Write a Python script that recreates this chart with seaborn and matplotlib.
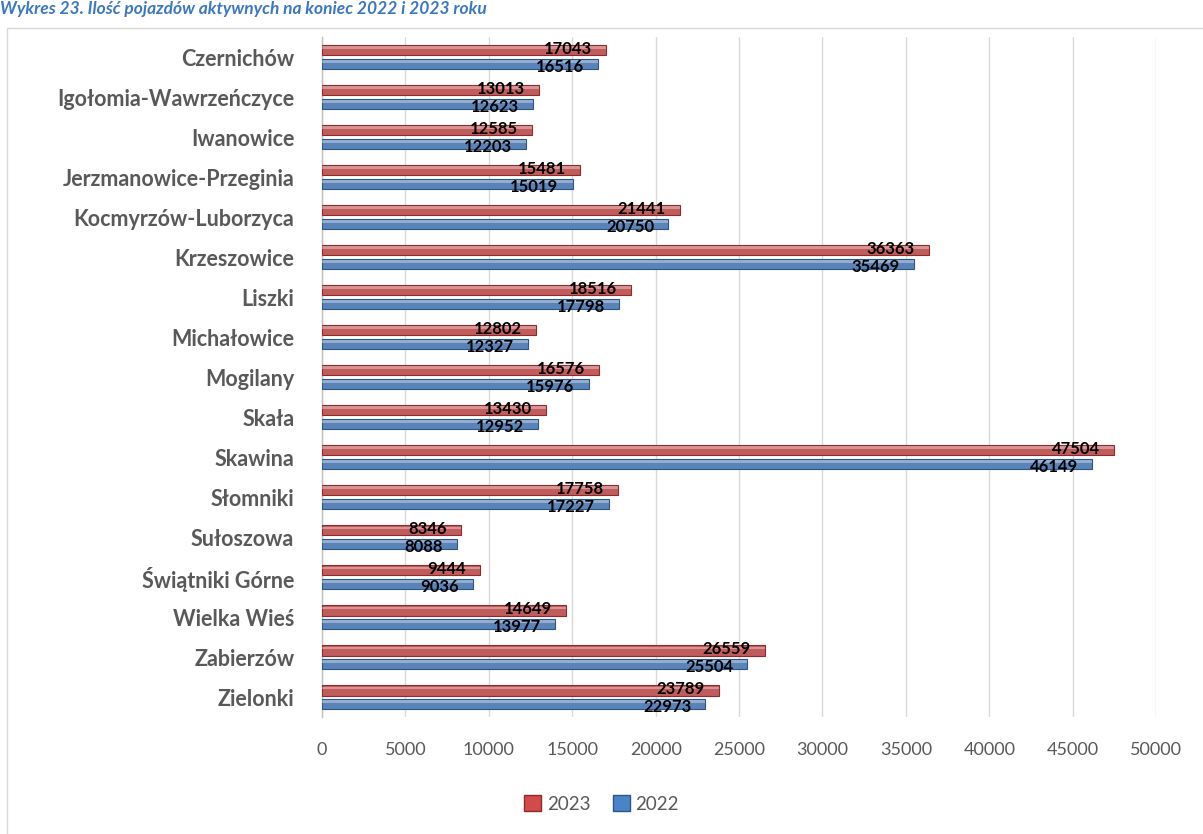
import matplotlib
matplotlib.use("Agg")
import matplotlib.pyplot as plt
import seaborn as sns
import pandas as pd
from matplotlib.patches import Rectangle, Patch

categories = ["Czernichów", "Igołomia-Wawrzeńczyce", "Iwanowice", "Jerzmanowice-Przeginia",
              "Kocmyrzów-Luborzyca", "Krzeszowice", "Liszki", "Michałowice", "Mogilany",
              "Skała", "Skawina", "Słomniki", "Sułoszowa", "Świątniki Górne",
              "Wielka Wieś", "Zabierzów", "Zielonki"]
values_2023 = [17043, 13013, 12585, 15481, 21441, 36363, 18516, 12802, 16576,
               13430, 47504, 17758, 8346, 9444, 14649, 26559, 23789]
values_2022 = [16516, 12623, 12203, 15019, 20750, 35469, 17798, 12327, 15976,
               12952, 46149, 17227, 8088, 9036, 13977, 25504, 22973]
series = ["2023", "2022"]
x_ticks = [0, 5000, 10000, 15000, 20000, 25000, 30000, 35000, 40000, 45000, 50000]
title = "Wykres 23. Ilość pojazdów aktywnych na koniec 2022 i 2023 roku"

df = pd.concat([
    pd.DataFrame({"gmina": categories, "rok": "2023", "wartosc": values_2023}),
    pd.DataFrame({"gmina": categories, "rok": "2022", "wartosc": values_2022}),
])

sns.set_theme(style="white")
plt.rcParams['font.family'] = ['Lato', 'DejaVu Sans']

fig = plt.figure(figsize=(12.03, 8.34), dpi=100)
ax = fig.add_axes([0.2677, 0.140, 0.6933, 0.8156])

colors = {"2023": "#D24B4B", "2022": "#4A83C8"}
edges = {"2023": "#8E2A2A", "2022": "#2A5688"}
sns.barplot(data=df, y="gmina", x="wartosc", hue="rok", hue_order=series,
            order=categories, palette=colors, orient="h", width=0.68, gap=0.25,
            ax=ax, legend=False, zorder=3)

label_dy = {"2023": 1, "2022": -3}
for cont, s in zip(ax.containers, series):
    for bar in cont:
        bar.set_edgecolor(edges[s])
        bar.set_linewidth(0.8)
        x0, y0 = bar.get_x(), bar.get_y()
        w, h = bar.get_width(), bar.get_height()
        hl = Rectangle((x0, y0 + h * 0.12), w, h * 0.28, facecolor="white",
                       alpha=0.35, linewidth=0, zorder=4)
        ax.add_patch(hl)
        ax.annotate(f"{int(w)}", xy=(w, y0 + h / 2), xytext=(-14, label_dy[s]),
                    textcoords="offset pixels", ha="right", va="center",
                    fontsize=12, fontweight="bold", color="black", zorder=6)

ax.set_xlim(0, 50000)
ax.set_xticks(x_ticks)
ax.set_xticklabels([str(t) for t in x_ticks], fontsize=13, color="#595959")
ax.tick_params(axis="x", length=0, pad=18)
ax.tick_params(axis="y", length=0, pad=20)
for lab in ax.get_yticklabels():
    lab.set_fontsize(15.5)
    lab.set_fontweight("bold")
    lab.set_color("#595959")
ax.set_xlabel("")
ax.set_ylabel("")
ax.grid(axis="x", color="#D9D9D9", linewidth=1, zorder=0)
ax.set_axisbelow(True)
for sp in ["top", "right", "bottom"]:
    ax.spines[sp].set_visible(False)
ax.spines["left"].set_color("#BFBFBF")
ax.spines["left"].set_linewidth(1)

handles = [Patch(facecolor=colors[s], edgecolor=edges[s], label=s) for s in series]
fig.legend(handles=handles, loc="center", bbox_to_anchor=(0.5, 0.036), ncol=2,
           frameon=False, fontsize=13.5, handlelength=0.9, handleheight=0.9,
           handletextpad=0.3, columnspacing=1.2, labelcolor="#595959")

border = Rectangle((0.006, -0.01), 1.2, 0.977, transform=fig.transFigure,
                   fill=False, edgecolor="#D9D9D9", linewidth=1)
fig.patches.append(border)
fig.text(0.0, 0.999, title, ha="left", va="top", fontsize=12.5, fontweight="bold",
         fontstyle="italic", color="#3B78C0")

fig.savefig("out.png", dpi=100)
